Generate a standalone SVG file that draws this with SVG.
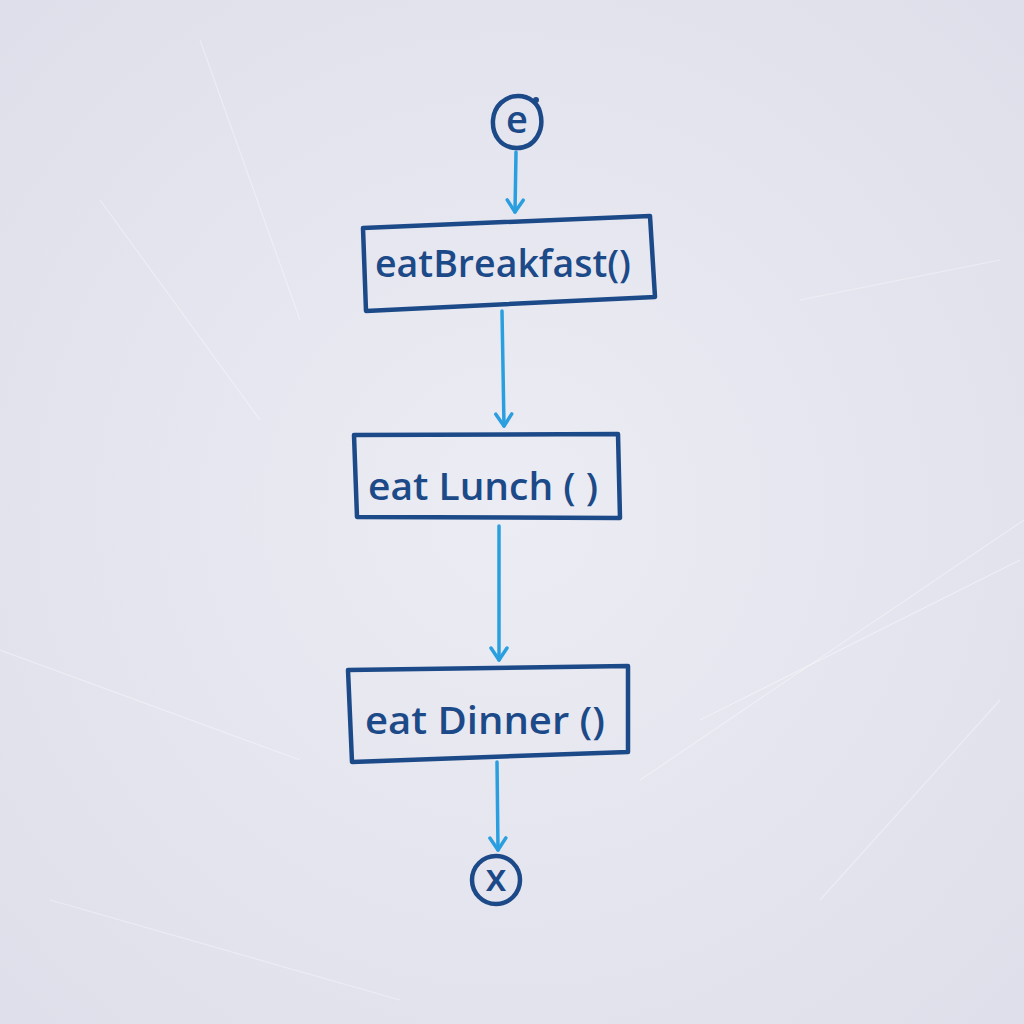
<svg xmlns="http://www.w3.org/2000/svg" width="1024" height="1024" viewBox="0 0 1024 1024">
<style>
.shape{fill:none;stroke:#1c4a88;stroke-width:4.5;stroke-linejoin:round;stroke-linecap:round}
.lbl{font-family:"Open Sans","Noto Sans",sans-serif;font-size:38px;font-weight:600;fill:#1c4a88;text-anchor:middle}
.conn{fill:none;stroke:#2a9fe0;stroke-width:3.5;stroke-linecap:round}
.scr{stroke:#ffffff;stroke-opacity:0.35;stroke-width:1.2;fill:none}
</style>
<defs>
<marker id="arr" viewBox="0 0 20 20" refX="18" refY="10" markerWidth="20" markerHeight="20" markerUnits="userSpaceOnUse" orient="auto">
<path d="M6 2 L18 10 L6 18" fill="none" stroke="#2a9fe0" stroke-width="3.5" stroke-linecap="round" stroke-linejoin="round"/>
</marker>
<radialGradient id="bg" cx="0.5" cy="0.5" r="0.75">
<stop offset="0" stop-color="#ececf4"/>
<stop offset="1" stop-color="#dedeea"/>
</radialGradient>
</defs>
<rect width="1024" height="1024" fill="url(#bg)"/>
<g id="texture">
<path class="scr" d="M640 780 L1024 520"/>
<path class="scr" d="M700 720 L1020 560"/>
<path class="scr" d="M0 650 L300 760"/>
<path class="scr" d="M200 40 L300 320"/>
<path class="scr" d="M800 300 L1000 260"/>
<path class="scr" d="M50 900 L400 1000"/>
<path class="scr" d="M820 900 L1000 700"/>
<path class="scr" d="M100 200 L260 420"/>
</g>
<g id="connectors">
<path class="conn" d="M516 152 L515 212" marker-end="url(#arr)"/>
<path class="conn" d="M502 311 L504 426" marker-end="url(#arr)"/>
<path class="conn" d="M499 526 L499 660" marker-end="url(#arr)"/>
<path class="conn" d="M497 762 L498 850" marker-end="url(#arr)"/>
</g>
<g id="start">
<path class="shape" d="M540 112 C545 130 535 148 517 148 C500 148 492 134 493 120 C494 106 505 96 518 96 C530 96 538 104 540 112"/>
<circle cx="536" cy="100" r="3" fill="#1c4a88"/>
<text class="lbl" x="517" y="133" font-size="30">e</text>
</g>
<g id="eatBreakfast">
<path class="shape" d="M363 228 L650 216 L655 297 L366 311 Z"/>
<text class="lbl" x="503" y="277" textLength="256" lengthAdjust="spacingAndGlyphs">eatBreakfast()</text>
</g>
<g id="eatLunch">
<path class="shape" d="M354 435 L618 434 L620 518 L357 517 Z"/>
<text class="lbl" x="483" y="500" textLength="230" lengthAdjust="spacingAndGlyphs">eat Lunch ( )</text>
</g>
<g id="eatDinner">
<path class="shape" d="M348 670 L628 666 L628 752 L352 762 Z"/>
<text class="lbl" x="485" y="734" textLength="240" lengthAdjust="spacingAndGlyphs">eat Dinner ()</text>
</g>
<g id="end">
<circle class="shape" cx="496" cy="880" r="24"/>
<text class="lbl" x="496" y="891" font-size="30">x</text>
</g>
</svg>
